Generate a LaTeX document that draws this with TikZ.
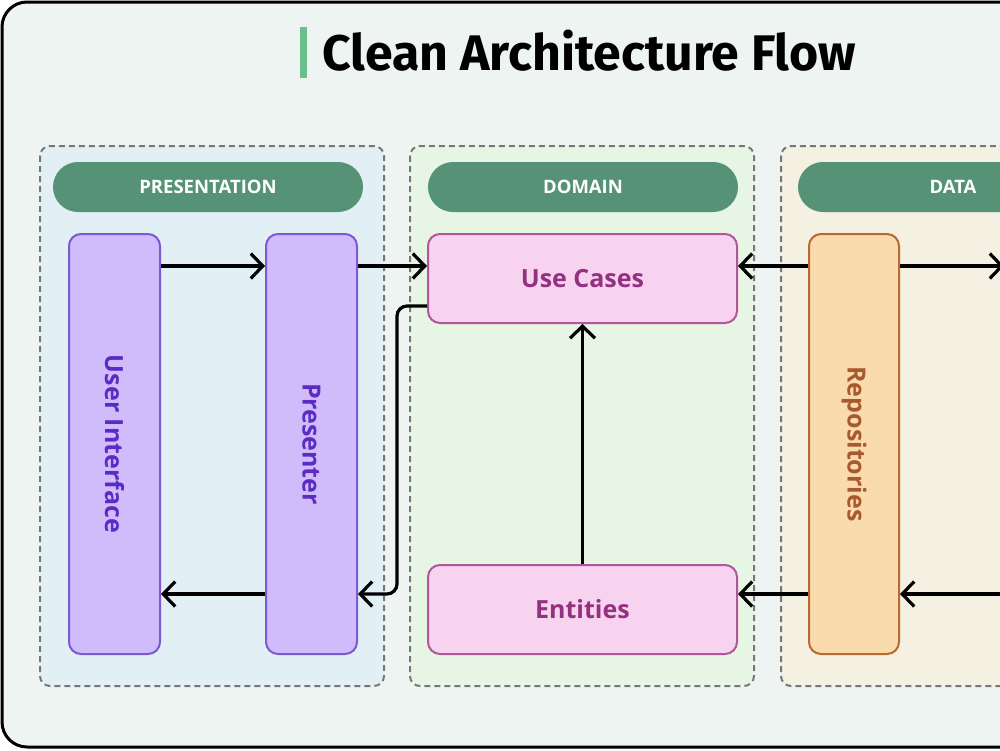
\documentclass[tikz,border=0pt]{standalone}
\usepackage{fontspec}
\setmainfont{Fira Sans}
\newfontfamily\labelfont{Open Sans}
\usetikzlibrary{arrows.meta,calc}
\definecolor{bgout}{HTML}{EDF4F1}
\definecolor{gpres}{HTML}{E2F0F5}
\definecolor{gdom}{HTML}{E7F6E4}
\definecolor{gdata}{HTML}{F4F0E2}
\definecolor{dashc}{HTML}{777777}
\definecolor{pillc}{HTML}{559276}
\definecolor{titlebar}{HTML}{6DBE8D}
\definecolor{purfill}{HTML}{D0BCFA}
\definecolor{purline}{HTML}{7E58D0}
\definecolor{purtext}{HTML}{5B2BC4}
\definecolor{pinkfill}{HTML}{F7D3EF}
\definecolor{pinkline}{HTML}{B0579C}
\definecolor{pinktext}{HTML}{93307F}
\definecolor{orfill}{HTML}{FADBAD}
\definecolor{orline}{HTML}{B86A30}
\definecolor{ortext}{HTML}{A85A2E}
\tikzset{
  group/.style={draw=dashc, line width=2pt, dash pattern=on 6pt off 4pt, rounded corners=10pt},
  pill/.style={fill=pillc, rounded corners=25pt, minimum width=310pt, minimum height=50pt, text=white, font=\labelfont\fontsize{18.5}{22}\selectfont\bfseries, inner sep=0pt},
  vbox/.style={rounded corners=12pt, line width=2pt, minimum width=91pt, minimum height=420pt, inner sep=0pt},
  purbox/.style={vbox, fill=purfill, draw=purline},
  orbox/.style={vbox, fill=orfill, draw=orline},
  hbox/.style={rounded corners=12pt, line width=2pt, fill=pinkfill, draw=pinkline, minimum width=309pt, minimum height=89pt, inner sep=0pt, text=pinktext, font=\labelfont\fontsize{25}{30}\selectfont\bfseries},
  vlabel/.style={rotate=-90, font=\labelfont\fontsize{25}{30}\selectfont\bfseries},
  arr/.style={line width=3.2pt, -{Straight Barb[length=12pt,width=25pt]}},
}
\begin{document}
\begin{tikzpicture}[x=1pt,y=-1pt]
\clip (0,0) rectangle (1000,750);
\useasboundingbox (0,0) rectangle (1000,750);
% outer frame
\draw[line width=3pt, fill=bgout, rounded corners=25pt] (2,2) rectangle (1160,747);
% title
\fill[titlebar] (300,27) rectangle (307,78);
\node[anchor=base west, inner sep=0pt, font=\fontsize{50}{60}\selectfont\bfseries] (title) at (322,70) {Clean Architecture Flow};
% groups
\draw[group, fill=gpres] (40,146) rectangle (384,686);
\draw[group, fill=gdom] (410,146) rectangle (754,686);
\draw[group, fill=gdata] (781,146) rectangle (1125,686);
% pills
\node[pill] (ppres) at (208,187) {PRESENTATION};
\node[pill] (pdom) at (583,187) {DOMAIN};
\node[pill] (pdata) at (953,187) {DATA};
% boxes
\node[purbox] (ui) at (114.5,444) {};
\node[vlabel, text=purtext] at (ui.center) {User Interface};
\node[purbox] (pres) at (311.5,444) {};
\node[vlabel, text=purtext] at (pres.center) {Presenter};
\node[hbox] (uc) at (582.5,278.5) {Use Cases};
\node[hbox] (ent) at (582.5,609.5) {Entities};
\node[orbox, minimum width=90pt] (repo) at (854,444) {};
\node[vlabel, text=ortext] at (repo.center) {Repositories};
% helper coordinates
\coordinate (rt) at ([yshift=-33pt]repo.north west);
\coordinate (rb) at ([yshift=-361pt]repo.north west);
\coordinate (dsT) at (1004,0 |- rt);
\coordinate (dsB) at (1004,0 |- rb);
% arrows
\draw[arr] ([yshift=-33pt]ui.north east) -- ([yshift=-33pt]pres.north west);
\draw[arr] ([yshift=-33pt]pres.north east) -- (uc.west |- rt);
\draw[arr] (rt) -- (uc.east |- rt);
\draw[arr] (repo.east |- rt) -- (dsT);
\draw[arr] (ent.north) -- (uc.south);
\draw[arr, rounded corners=10pt] ([yshift=-73pt]uc.north west) -- ++(-30,0) |- (pres.east |- rb);
\draw[arr] (pres.west |- rb) -- (ui.east |- rb);
\draw[arr] (rb) -- (ent.east |- rb);
\draw[arr] (dsB) -- (repo.east |- rb);
\end{tikzpicture}
\end{document}
